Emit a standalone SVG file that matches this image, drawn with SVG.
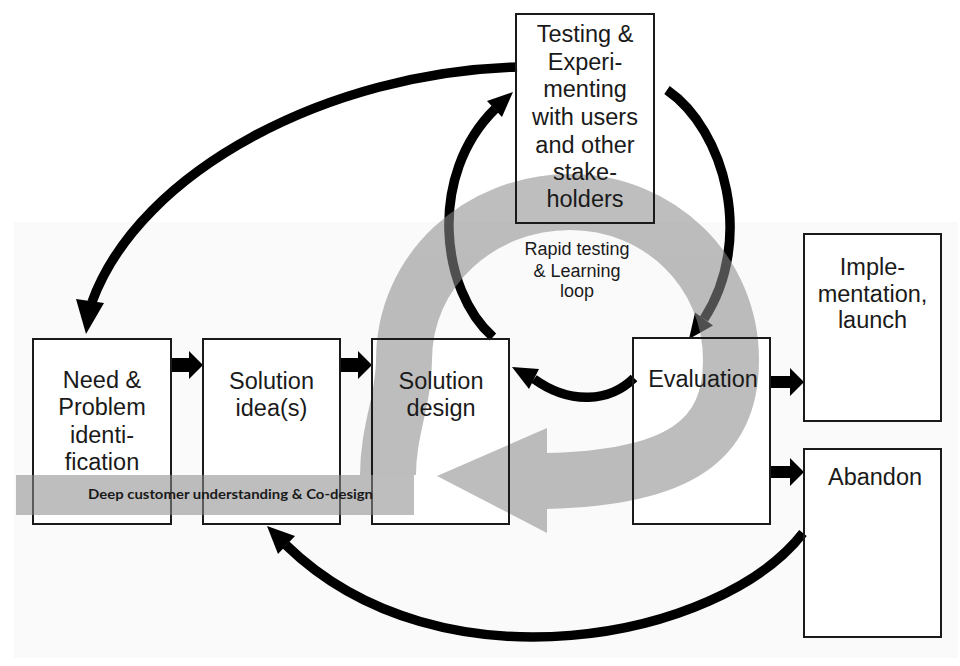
<svg xmlns="http://www.w3.org/2000/svg" width="960" height="666" viewBox="0 0 960 666">
<defs>
<style>
.box{fill:none;stroke:#1a1a1a;stroke-width:2}
.lbl{font-family:"Liberation Sans",Arial,sans-serif;font-size:23.5px;fill:#1a1a1a;text-anchor:middle}
.small{font-family:"Liberation Sans",Arial,sans-serif;font-size:18px;fill:#1a1a1a;text-anchor:middle}
.arc{fill:none;stroke:#000;stroke-width:9.5}
.head{fill:#000}
.band{fill:none;stroke:#8c8c8c;stroke-width:56}
.bandfill{fill:#8c8c8c}
</style>
</defs>
<rect x="0" y="0" width="960" height="666" fill="#ffffff"/>
<rect x="14" y="222" width="944" height="436" fill="#fafafa"/>
<rect x="33" y="339" width="138" height="185" fill="#ffffff"/>
<rect x="203" y="339" width="137" height="185" fill="#ffffff"/>
<rect x="372" y="339" width="137" height="185" fill="#ffffff"/>
<rect x="633" y="338" width="137" height="186" fill="#ffffff"/>
<rect x="804" y="234" width="137" height="187" fill="#ffffff"/>
<rect x="804" y="449" width="137" height="188" fill="#ffffff"/>
<rect x="516" y="14" width="138" height="209" fill="#ffffff"/>

<g id="connectors">
  <!-- Testing -> Need (big top-left arc) -->
  <path class="arc" d="M 517 67 C 330 72, 140 170, 92 302"/>
  <polygon class="head" points="86,334 76,299 104,303"/>
  <!-- Solution design -> Testing (left loop arc) -->
  <path class="arc" d="M 493 337 C 440 290, 428 175, 495 109"/>
  <polygon class="head" points="513,92 502,117 487,101"/>
  <!-- Testing -> Evaluation (right loop arc) -->
  <path class="arc" d="M 667 90 C 725 130, 755 240, 704 319"/>
  <polygon class="head" points="689,339 713,325.5 695,312.5"/>
  <!-- Evaluation -> Solution design -->
  <path class="arc" d="M 634 378 C 610 402, 570 405, 534 379"/>
  <polygon class="head" points="512,367 539,369 529,389"/>
  <!-- Abandon -> Solution idea(s) (bottom arc) -->
  <path class="arc" d="M 803 533 C 720 640, 440 695, 286 545"/>
  <polygon class="head" points="267,526 295,536 278,554"/>
  <!-- block arrows -->
  <polygon class="head" points="171,358 189,358 189,351 203,365 189,379 189,372 171,372"/>
  <polygon class="head" points="340,358 358,358 358,351 372,365 358,379 358,372 340,372"/>
  <polygon class="head" points="770,376 790,376 790,368 804,382 790,396 790,388 770,388"/>
  <polygon class="head" points="770,466 790,466 790,458 804,472 790,486 790,478 770,478"/>
</g>

<g id="learning-band" opacity="0.57">
  <path class="band" d="M 388 475 C 388 430, 404 400, 404 360 C 404 270, 480 202, 570 202 C 660 202, 731 272, 731 360 C 731 440, 680 478, 546 481"/>
  <polygon class="bandfill" points="437,476 547,428 547,533"/>
</g>

<g id="node-testing">
  <rect class="box" x="516" y="14" width="138" height="209"/>
  <text class="lbl" x="585" y="42">Testing &amp;</text>
  <text class="lbl" x="585" y="70">Experi-</text>
  <text class="lbl" x="585" y="97">menting</text>
  <text class="lbl" x="585" y="125">with users</text>
  <text class="lbl" x="585" y="153">and other</text>
  <text class="lbl" x="585" y="180">stake-</text>
  <text class="lbl" x="585" y="207">holders</text>
</g>
<g id="node-need">
  <rect class="box" x="33" y="339" width="138" height="185"/>
  <text class="lbl" x="102" y="388">Need &amp;</text>
  <text class="lbl" x="102" y="415">Problem</text>
  <text class="lbl" x="102" y="443">identi-</text>
  <text class="lbl" x="102" y="470">fication</text>
</g>
<g id="node-idea">
  <rect class="box" x="203" y="339" width="137" height="185"/>
  <text class="lbl" x="271.5" y="389">Solution</text>
  <text class="lbl" x="271.5" y="416">idea(s)</text>
</g>
<g id="node-design">
  <rect class="box" x="372" y="339" width="137" height="185"/>
  <text class="lbl" x="441" y="389">Solution</text>
  <text class="lbl" x="441" y="416">design</text>
</g>
<g id="node-evaluation">
  <rect class="box" x="633" y="338" width="137" height="186"/>
  <text class="lbl" x="703" y="387">Evaluation</text>
</g>
<g id="node-implementation">
  <rect class="box" x="804" y="234" width="137" height="187"/>
  <text class="lbl" x="872.5" y="275">Imple-</text>
  <text class="lbl" x="872.5" y="302">mentation,</text>
  <text class="lbl" x="872.5" y="328">launch</text>
</g>
<g id="node-abandon">
  <rect class="box" x="804" y="449" width="137" height="188"/>
  <text class="lbl" x="875" y="485">Abandon</text>
</g>
<g id="loop-label">
  <text class="small" x="577" y="255">Rapid testing</text>
  <text class="small" x="577" y="277">&amp; Learning</text>
  <text class="small" x="577" y="297">loop</text>
</g>
<g id="banner">
  <rect x="16" y="475" width="398" height="40" fill="#8c8c8c" opacity="0.57"/>
  <text x="88" y="499" font-family="Lato,'Open Sans',sans-serif" font-weight="bold" font-size="14" fill="#1a1a1a" textLength="285" lengthAdjust="spacingAndGlyphs">Deep customer understanding &amp; Co-design</text>
</g>
</svg>
